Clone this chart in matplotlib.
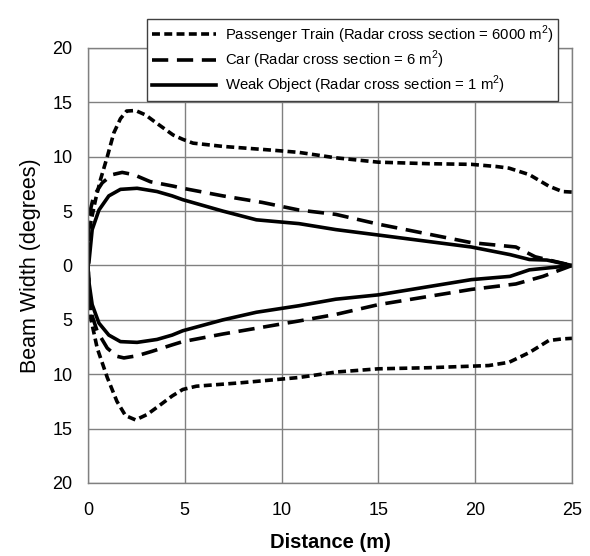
import matplotlib
matplotlib.use('Agg')
import matplotlib.pyplot as plt

plt.rcParams['font.family'] = ['Liberation Sans', 'DejaVu Sans']
plt.rcParams['mathtext.fontset'] = 'custom'
plt.rcParams['mathtext.rm'] = 'Liberation Sans'

# Passenger train (upper / lower edge of beam)
train_x_up = [0, 0.14, 0.4, 0.65, 1.0, 1.34, 1.68, 2.0, 2.46, 2.97, 3.54, 4.4, 4.9, 5.43, 6.97,
              9.55, 10.9, 12.8, 15.0, 17.6, 19.8, 21.1, 21.75, 22.8, 23.8, 24.5, 25.0]
train_y_up = [0, 3.9, 6.1, 7.9, 10.0, 12.2, 13.5, 14.2, 14.25, 13.85, 13.1, 12.0, 11.6, 11.25, 10.95,
              10.6, 10.4, 9.9, 9.5, 9.36, 9.3, 9.1, 8.95, 8.35, 7.3, 6.8, 6.75]
train_x_lo = [0, 0.14, 0.48, 1.0, 1.5, 1.94, 2.46, 3.06, 3.75, 4.35, 4.9, 5.6, 7.8, 10.9,
              12.8, 15.0, 17.6, 20.7, 21.75, 22.8, 23.8, 24.5, 25.0]
train_y_lo = [0, -4.8, -7.6, -10.3, -12.5, -13.8, -14.2, -13.7, -12.8, -12.0, -11.4, -11.1, -10.8, -10.3,
              -9.8, -9.5, -9.4, -9.2, -8.9, -8.0, -6.9, -6.75, -6.7]

# Car
car_x_up = [0, 0.05, 0.3, 0.74, 1.25, 1.77, 2.37, 3.23, 4.4, 4.9, 6.97, 9.0, 10.9, 12.8,
            15.0, 19.8, 22.1, 23.1, 25.0]
car_y_up = [0, 4.5, 6.4, 7.6, 8.35, 8.56, 8.35, 7.7, 7.3, 7.1, 6.4, 5.8, 5.1, 4.7,
            3.8, 2.1, 1.7, 0.8, 0]
car_x_lo = [0, 0.14, 0.48, 1.0, 1.5, 1.86, 2.54, 3.3, 4.35, 4.9, 6.97, 10.9, 12.8,
            15.0, 19.8, 22.1, 23.5, 25.0]
car_y_lo = [0, -4.2, -6.05, -7.6, -8.35, -8.5, -8.3, -7.9, -7.3, -7.0, -6.3, -5.1, -4.5,
            -3.6, -2.2, -1.7, -1.0, 0]

# Weak object
weak_x_up = [0, 0.05, 0.22, 0.57, 1.08, 1.68, 2.54, 3.57, 4.35, 4.9, 6.97, 8.7, 10.9, 12.8,
             15.0, 19.8, 21.8, 22.8, 23.7, 25.0]
weak_y_up = [0, 0.25, 3.3, 5.1, 6.4, 7.0, 7.1, 6.8, 6.4, 6.05, 5.0, 4.2, 3.85, 3.3,
             2.8, 1.7, 1.0, 0.55, 0.5, 0]
weak_x_lo = [0, 0.05, 0.22, 0.57, 1.08, 1.68, 2.54, 3.57, 4.35, 4.9, 6.97, 8.7, 10.9, 12.8,
             15.0, 19.8, 21.8, 22.8, 25.0]
weak_y_lo = [0, -1.5, -3.6, -5.3, -6.4, -7.0, -7.07, -6.8, -6.4, -6.0, -5.0, -4.3, -3.7, -3.1,
             -2.7, -1.3, -1.0, -0.4, 0]

labels = ["Passenger Train (Radar cross section = 6000 m$^{2}$)",
          "Car (Radar cross section = 6 m$^{2}$)",
          "Weak Object (Radar cross section = 1 m$^{2}$)"]

yticks = [-20, -15, -10, -5, 0, 5, 10, 15, 20]
ytick_labels = ['20', '15', '10', '5', '0', '5', '10', '15', '20']
xticks = [0, 5, 10, 15, 20, 25]

fig = plt.figure(figsize=(5.9, 5.56), dpi=100)
ax = fig.add_axes([0.149, 0.1313, 0.8205, 0.7824])

lw = 2.6
style = dict(color='k', lw=lw, solid_joinstyle='round', dash_joinstyle='round')
l1, = ax.plot(train_x_up, train_y_up, dashes=(2.2, 1.2), **style)
ax.plot(train_x_lo, train_y_lo, dashes=(2.2, 1.2), **style)
l2, = ax.plot(car_x_up, car_y_up, dashes=(4.5, 2.4), **style)
ax.plot(car_x_lo, car_y_lo, dashes=(4.5, 2.4), **style)
l3, = ax.plot(weak_x_up, weak_y_up, '-', **style)
ax.plot(weak_x_lo, weak_y_lo, '-', **style)

ax.set_xlim(0, 25)
ax.set_ylim(-20, 20)
ax.set_xticks(xticks)
ax.set_yticks(yticks)
ax.set_yticklabels(ytick_labels)
ax.tick_params(length=0, labelsize=13)
ax.tick_params(axis='y', pad=11)
ax.tick_params(axis='x', pad=14)
ax.grid(True, color='#808080', lw=1.0)
ax.set_axisbelow(True)
for s in ax.spines.values():
    s.set_color('#808080')
    s.set_linewidth(1.0)

ax.set_xlabel("Distance (m)", fontsize=14.5, fontweight='bold', labelpad=10)
ax.set_ylabel("Beam Width (degrees)", fontsize=15.5, labelpad=8)

leg = ax.legend([l1, l2, l3], labels, loc='upper right', bbox_to_anchor=(0.971, 1.067),
                fontsize=10.7, fancybox=False, framealpha=1, edgecolor='#404040',
                handlelength=4.3, borderaxespad=0, handletextpad=0.6, labelspacing=0.2,
                borderpad=0.3)
leg.get_frame().set_linewidth(1.0)

fig.savefig('out.png', dpi=100)
